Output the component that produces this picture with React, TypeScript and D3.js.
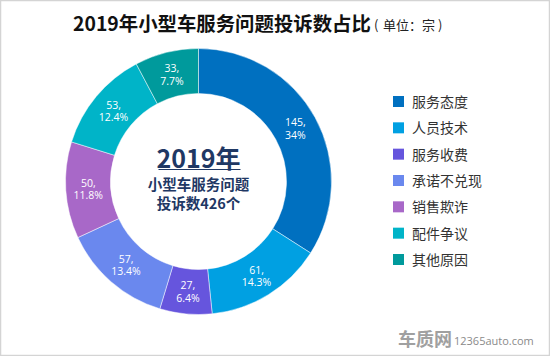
import React from "react";
import * as d3 from "d3";

const categories = ["服务态度", "人员技术", "服务收费", "承诺不兑现", "销售欺诈", "配件争议", "其他原因"];
const values = [145, 61, 27, 57, 50, 53, 33];
const percents = ["34%", "14.3%", "6.4%", "13.4%", "11.8%", "12.4%", "7.7%"];
const colors = ["#0070C0", "#00A0E2", "#6655DD", "#6A88EE", "#A868C8", "#00B4C8", "#009A9C"];

const W = 550;
const H = 356;
const cx = 198.5;
const cy = 181.5;
const outerR = 133;
const innerR = 88;

export default function App() {
  const pie = d3.pie<number>().value((d) => d).sort(null);
  const arcs = pie(values);
  const arc = d3.arc<d3.PieArcDatum<number>>().innerRadius(innerR).outerRadius(outerR);
  const font = "'Noto Sans CJK SC', 'Noto Sans', sans-serif";
  const legendY = d3.scaleLinear().domain([0, 6]).range([102, 260]);
  const labelFont = "'Open Sans', 'DejaVu Sans', sans-serif";

  return (
    <svg
      width={W}
      height={H}
      style={{ position: "absolute", left: 0, top: 0, background: "#fff" }}
      fontFamily={font}
    >
      <rect x={0.5} y={0.5} width={W - 1} height={H - 1} fill="#fff" stroke="#d4d4d4" strokeWidth={1.5} />
      <text x={73} y={31} fontSize={19.4} fontWeight="bold" fill="#111">
        2019年小型车服务问题投诉数占比
      </text>
      <text x={374} y={30} fontSize={13} fill="#222">
        <tspan>(</tspan>
        <tspan x={383}>单位：宗</tspan>
        <tspan x={438}>)</tspan>
      </text>
      <g transform={`translate(${cx},${cy})`}>
        {arcs.map((a, i) => (
          <path key={i} d={arc(a) || ""} fill={colors[i]} stroke="#ffffff" strokeOpacity={0.6} strokeWidth={0.8} />
        ))}
        {arcs.map((a, i) => {
          const [x, y] = arc.centroid(a);
          return (
            <g key={"l" + i}>
              <text x={x} y={y - 2} textAnchor="middle" fill="#fff" fontSize={10.5} fontFamily={labelFont}>
                {values[i]},
              </text>
              <text x={x} y={y + 10.5} textAnchor="middle" fill="#fff" fontSize={10.5} fontFamily={labelFont}>
                {percents[i]}
              </text>
            </g>
          );
        })}
        <text x={0} y={-14} textAnchor="middle" fontSize={25} fontWeight="bold" fill="#1F3864">
          2019年
        </text>
        <line x1={-40} x2={42} y1={-12} y2={-12} stroke="#1F3864" strokeWidth={1.2} />
        <text x={0} y={8} textAnchor="middle" fontSize={14.5} fontWeight="bold" fill="#1F3864">
          小型车服务问题
        </text>
        <text x={0} y={27} textAnchor="middle" fontSize={14.5} fontWeight="bold" fill="#1F3864">
          投诉数426个
        </text>
      </g>
      {categories.map((c, i) => (
        <g key={"lg" + i} transform={`translate(393,${legendY(i)})`}>
          <rect x={0} y={-6} width={11} height={11} fill={colors[i]} />
          <text x={19} y={5} fontSize={14} fill="#333">
            {c}
          </text>
        </g>
      ))}
      <text x={398} y={346} fontSize={18} fontWeight="bold" fill="#a0a0a0">
        车质网
      </text>
      <text x={454} y={345} fontSize={11} fill="#8a8a8a" fontFamily={labelFont}>
        12365auto.com
      </text>
    </svg>
  );
}
